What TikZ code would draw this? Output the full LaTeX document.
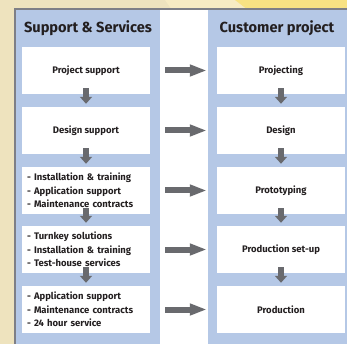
\documentclass[tikz,border=0pt]{standalone}
\usepackage{fontspec}
\setmainfont{Fira Sans}
\usetikzlibrary{arrows.meta}
\definecolor{bgbeige}{HTML}{EEE3BE}
\definecolor{bgcream}{HTML}{F7EBC3}
\definecolor{bgyellow}{HTML}{F8E283}
\definecolor{panelblue}{HTML}{B5C8E6}
\definecolor{framegray}{HTML}{7E7F86}
\definecolor{arrowgray}{HTML}{696A6E}
\definecolor{textdark}{HTML}{231F20}
\begin{document}
\begin{tikzpicture}[x=1pt,y=-1pt,
  box/.style={fill=white, draw=none, minimum width=128pt, minimum height=47pt, inner sep=0pt,
    font=\bfseries\fontsize{9.5}{13.5}\selectfont, text=textdark, align=center},
  listbox/.style={box, align=left, text width=118pt},
  header/.style={font=\bfseries\fontsize{14.6}{16}\selectfont, text=textdark, inner sep=0pt},
  rarrow/.style={draw=arrowgray, line width=6pt, -{Triangle[length=17pt,width=11pt]}, shorten <=15pt, shorten >=10pt},
  darrow/.style={draw=arrowgray, line width=6pt, -{Triangle[length=7pt,width=12pt]}, shorten <=-6pt, shorten >=3pt},
]
\useasboundingbox (0,0) rectangle (347,344);
% background
\fill[bgbeige] (0,0) rectangle (347,344);
\fill[bgcream] (165,0) -- (347,0) -- (347,10) -- (172,10) -- cycle;
\fill[bgyellow] (235,0) -- (347,0) -- (347,10) -- (248,10) -- cycle;
% frame and panels
\fill[framegray] (14,8) rectangle (347,344);
\fill[panelblue] (16,10) rectangle (160,344);
\fill[white] (160,10) rectangle (208,344);
\fill[panelblue] (208,10) rectangle (347,344);
% headers
\node[header] (hl) at (88,28) {Support \& Services};
\node[header] (hr) at (277,28) {Customer project};
% left boxes
\node[box] (l1) at (86,70.5) {Project support};
\node[box] (l2) at (86,130.5) {Design support};
\node[listbox] (l3) at (86,190.5) {- Installation \& training\\- Application support\\- Maintenance contracts};
\node[listbox] (l4) at (86,249.5) {- Turnkey solutions\\- Installation \& training\\- Test-house services};
\node[listbox] (l5) at (86,309.5) {- Application support\\- Maintenance contracts\\- 24 hour service};
% right boxes
\node[box] (r1) at (281,70.5) {Projecting};
\node[box] (r2) at (281,130.5) {Design};
\node[box] (r3) at (281,190.5) {Prototyping};
\node[box] (r4) at (281,249.5) {Production set-up};
\node[box] (r5) at (281,309.5) {Production};
% down arrows
\foreach \a/\b in {l1/l2,l2/l3,l3/l4,l4/l5,r1/r2,r2/r3,r3/r4,r4/r5}
  \draw[darrow] (\a.south) -- (\b.north);
% right arrows
\foreach \i in {1,...,5}
  \draw[rarrow] (l\i.east) -- (r\i.west);
\end{tikzpicture}
\end{document}
